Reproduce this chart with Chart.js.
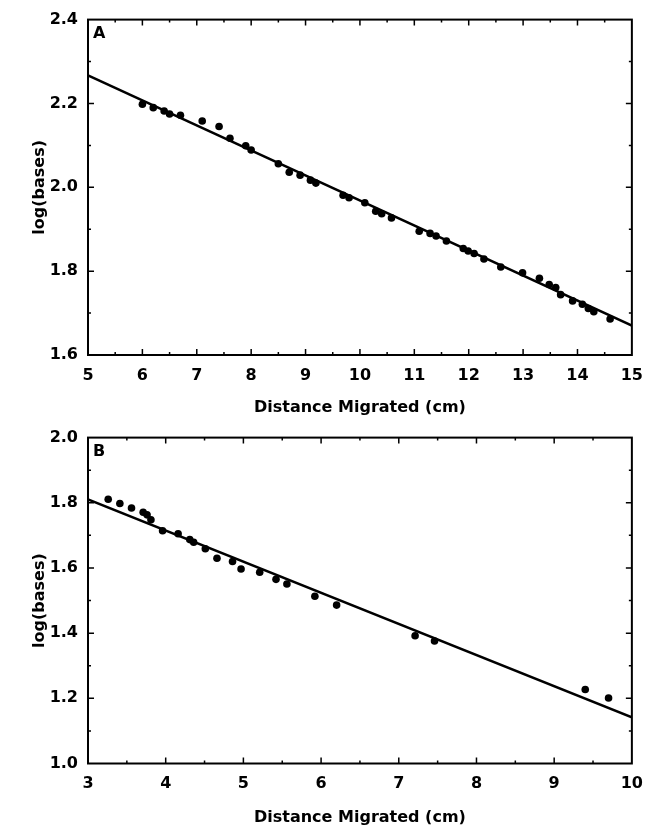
<!DOCTYPE html>
<html>
<head>
<meta charset="utf-8">
<script src="https://cdn.jsdelivr.net/npm/chart.js@4.4.1/dist/chart.umd.min.js"></script>
<style>
  body { margin: 0; background: #fff; }
  #wrap { position: relative; width: 654px; height: 828px; }
  canvas { position: absolute; left: 0; }
</style>
</head>
<body>
<div id="wrap">
  <canvas id="chartA" width="654" height="418" style="top:0"></canvas>
  <canvas id="chartB" width="654" height="410" style="top:418px"></canvas>
</div>
<script>
// panel A: data
const distA = [6.0, 6.2, 6.4, 6.5, 6.7, 7.1, 7.41, 7.61, 7.9, 8.0, 8.5, 8.7, 8.9, 9.09, 9.19, 9.69, 9.8,
  10.09, 10.29, 10.4, 10.58, 11.09, 11.29, 11.4, 11.59, 11.9, 11.99, 12.1, 12.28, 12.59, 12.99,
  13.3, 13.48, 13.6, 13.69, 13.91, 14.09, 14.2, 14.3, 14.6];
const logA = [2.198, 2.19, 2.182, 2.175, 2.172, 2.158, 2.145, 2.117, 2.099, 2.089, 2.056, 2.036, 2.029,
  2.017, 2.01, 1.981, 1.975, 1.963, 1.943, 1.937, 1.927, 1.895, 1.89, 1.884, 1.872, 1.854, 1.848,
  1.842, 1.829, 1.81, 1.796, 1.783, 1.768, 1.761, 1.744, 1.729, 1.721, 1.711, 1.703, 1.686];
const fitXA = [5, 15];
const fitYA = [2.267, 1.670];

// panel B
const distB = [3.26, 3.41, 3.56, 3.71, 3.76, 3.81, 3.96, 4.16, 4.31, 4.36, 4.51, 4.66, 4.86, 4.97,
  5.21, 5.42, 5.56, 5.92, 6.2, 7.21, 7.46, 9.4, 9.7];
const logB = [1.811, 1.798, 1.784, 1.771, 1.763, 1.748, 1.714, 1.705, 1.687, 1.679, 1.659, 1.63,
  1.62, 1.597, 1.587, 1.565, 1.551, 1.513, 1.486, 1.392, 1.376, 1.227, 1.201];
const fitXB = [3, 10];
const fitYB = [1.81, 1.142];

const FONT = "'DejaVu Sans', 'Liberation Sans', sans-serif";
Chart.defaults.font.family = FONT;
Chart.defaults.font.weight = 'bold';
Chart.defaults.font.size = 16;
Chart.defaults.color = '#000';

// frame with inward ticks on all four sides + panel letter
const framePlugin = {
  id: 'frame',
  afterDraw(chart, args, opts) {
    const ctx = chart.ctx;
    const a = chart.chartArea;
    const xs = chart.scales.x, ys = chart.scales.y;
    ctx.save();
    ctx.strokeStyle = '#000';
    ctx.lineWidth = 2;
    ctx.strokeRect(a.left, a.top, a.right - a.left, a.bottom - a.top);
    ctx.lineWidth = 1.5;
    ctx.beginPath();
    const nx = Math.round((xs.max - xs.min) / 0.5);
    for (let i = 1; i < nx; i++) {
      const px = xs.getPixelForValue(xs.min + i * 0.5);
      const len = i % 2 === 0 ? 6 : 3;
      ctx.moveTo(px, a.bottom); ctx.lineTo(px, a.bottom - len);
      ctx.moveTo(px, a.top); ctx.lineTo(px, a.top + len);
    }
    const ny = Math.round((ys.max - ys.min) / 0.1);
    for (let i = 1; i < ny; i++) {
      const py = ys.getPixelForValue(ys.min + i * 0.1);
      const len = i % 2 === 0 ? 6 : 3;
      ctx.moveTo(a.left, py); ctx.lineTo(a.left + len, py);
      ctx.moveTo(a.right, py); ctx.lineTo(a.right - len, py);
    }
    ctx.stroke();
    ctx.fillStyle = '#000';
    ctx.font = 'bold 16px ' + FONT;
    ctx.textBaseline = 'top';
    ctx.fillText(opts.letter, a.left + 5, a.top + 6);
    ctx.restore();
  }
};

function panel(id, xData, yData, fitX, fitY, xMin, xMax, yMin, yMax, pad, axisH, letter) {
  const pts = xData.map((v, i) => ({ x: v, y: yData[i] }));
  const fit = fitX.map((v, i) => ({ x: v, y: fitY[i] }));
  return new Chart(document.getElementById(id), {
    type: 'scatter',
    data: {
      datasets: [
        { data: pts, pointRadius: 3.8, backgroundColor: '#000', borderWidth: 0 },
        { type: 'line', data: fit, borderColor: '#000', borderWidth: 2.5, pointRadius: 0, fill: false }
      ]
    },
    options: {
      responsive: false,
      animation: false,
      layout: { padding: pad },
      plugins: { legend: { display: false }, tooltip: { enabled: false }, frame: { letter: letter } },
      scales: {
        x: {
          type: 'linear', min: xMin, max: xMax,
          grid: { display: false, drawTicks: false, tickLength: 0 },
          border: { display: false },
          ticks: { stepSize: 1, padding: 11, maxRotation: 0 },
          title: { display: true, text: 'Distance Migrated (cm)', font: { size: 16, weight: 'bold' }, padding: { top: 0, bottom: 1 } },
          afterFit: s => { s.height = axisH; }
        },
        y: {
          type: 'linear', min: yMin, max: yMax,
          grid: { display: false, drawTicks: false, tickLength: 0 },
          border: { display: false },
          ticks: { stepSize: 0.2, padding: 10, callback: v => v.toFixed(1) },
          title: { display: true, text: 'log(bases)', font: { size: 16, weight: 'bold' }, padding: { top: 30, bottom: 0 } },
          afterFit: s => { s.width = 88; }
        }
      }
    },
    plugins: [framePlugin]
  });
}

panel('chartA', distA, logA, fitXA, fitYA, 5, 15, 1.6, 2.4, { top: 19, right: 22, bottom: 0, left: 0 }, 63, 'A');
panel('chartB', distB, logB, fitXB, fitYB, 3, 10, 1.0, 2.0, { top: 10.5, right: 22, bottom: 0, left: 0 }, 64.5, 'B');
</script>
</body>
</html>
